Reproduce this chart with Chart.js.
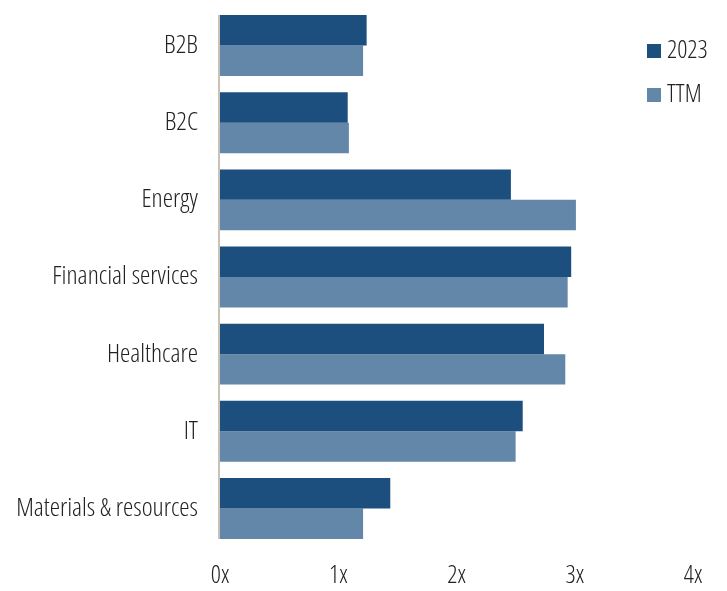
<!DOCTYPE html>
<html>
<head>
<meta charset="utf-8">
<script src="https://cdn.jsdelivr.net/npm/chart.js@4.4.1/dist/chart.umd.min.js"></script>
<style>
  html, body { margin: 0; padding: 0; background: #fff; }
</style>
</head>
<body>
<canvas id="chart" width="727" height="591"></canvas>
<script>
const categories = ['B2B', 'B2C', 'Energy', 'Financial services', 'Healthcare', 'IT', 'Materials & resources'];
const values2023 = [1.24, 1.08, 2.46, 2.97, 2.74, 2.56, 1.44];
const valuesTTM = [1.21, 1.09, 3.01, 2.94, 2.92, 2.50, 1.21];
const xTicks = [0, 1, 2, 3, 4];

const FAMILY = '"Open Sans", sans-serif';
const WEIGHT = '300 condensed';

// legend at top right, over the plot area, plus the short axis line
const extras = {
    id: 'extras',
    afterDatasetsDraw(chart) {
        const ctx = chart.ctx;
        const first = chart.getDatasetMeta(0).data[0];
        const last = chart.getDatasetMeta(1).data[categories.length - 1];
        ctx.save();
        ctx.strokeStyle = '#c9c2b6';
        ctx.lineWidth = 2;
        ctx.beginPath();
        ctx.moveTo(chart.chartArea.left - 1, first.y - first.height / 2);
        ctx.lineTo(chart.chartArea.left - 1, last.y + last.height / 2);
        ctx.stroke();

        ctx.font = WEIGHT + ' 25px ' + FAMILY;
        ctx.textBaseline = 'middle';
        chart.data.datasets.forEach((ds, i) => {
            const y = 51 + i * 44;
            ctx.fillStyle = ds.backgroundColor;
            ctx.fillRect(647, y - 7, 14, 14);
            ctx.fillStyle = '#222';
            ctx.fillText(ds.label, 667, y);
        });
        ctx.restore();
    }
};

new Chart(document.getElementById('chart'), {
    type: 'bar',
    data: {
        labels: categories,
        datasets: [
            { label: '2023', data: values2023, backgroundColor: '#1d4f7e' },
            { label: 'TTM', data: valuesTTM, backgroundColor: '#6387a8' }
        ]
    },
    options: {
        indexAxis: 'y',
        responsive: false,
        animation: false,
        layout: { padding: { top: 7, right: 34, left: 0, bottom: 0 } },
        datasets: { bar: { categoryPercentage: 0.79, barPercentage: 1.0 } },
        plugins: { legend: { display: false }, tooltip: { enabled: false } },
        scales: {
            x: {
                min: 0,
                max: 4,
                afterBuildTicks(scale) { scale.ticks = xTicks.map(v => ({ value: v })); },
                grid: { display: false, drawTicks: false },
                border: { display: false },
                ticks: {
                    color: '#222',
                    font: { family: FAMILY, weight: WEIGHT, size: 25 },
                    padding: 14,
                    callback: v => v + 'x'
                },
                afterFit(scale) { scale.height = 44; }
            },
            y: {
                grid: { display: false, drawTicks: false },
                border: { display: false },
                ticks: {
                    color: '#222',
                    font: { family: FAMILY, weight: WEIGHT, size: 26 },
                    padding: 22
                },
                afterFit(scale) {
                    scale.width = 220;
                    scale.paddingTop = 0;
                    scale.paddingBottom = 0;
                }
            }
        }
    },
    plugins: [extras]
});
</script>
</body>
</html>
